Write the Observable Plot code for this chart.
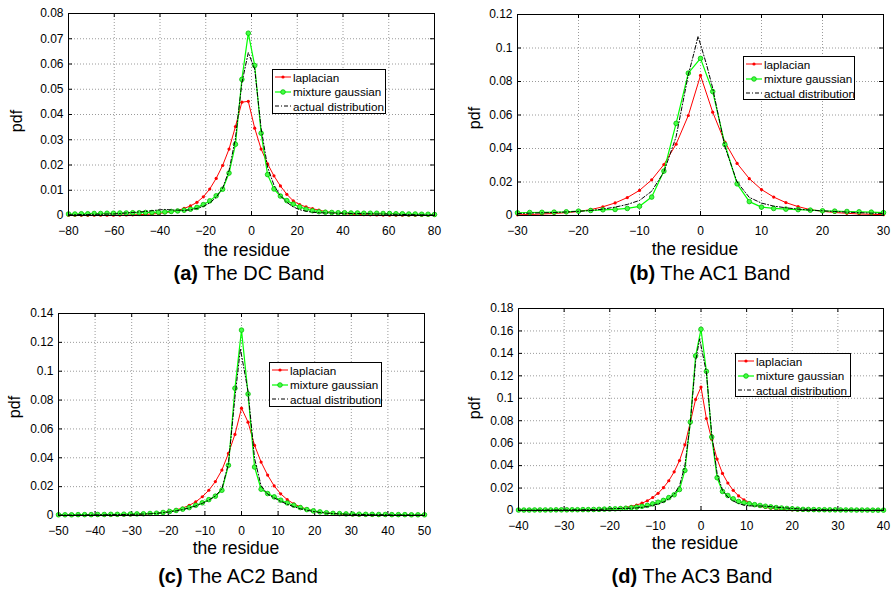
<!DOCTYPE html>
<html><head><meta charset="utf-8">
<script src="https://cdn.jsdelivr.net/npm/d3@7"></script>
<script src="https://cdn.jsdelivr.net/npm/@observablehq/plot@0.6"></script>
<style>
body{margin:0;background:#fff;}
#root{position:relative;width:893px;height:591px;overflow:hidden;font-family:"Liberation Sans",Arial,Helvetica,sans-serif;color:#000;}
.plot{position:absolute;}
.lbl{position:absolute;white-space:nowrap;line-height:1;transform:translateX(-50%);}
.ylbl{position:absolute;white-space:nowrap;line-height:1;font-size:16px;transform:translate(-50%,-50%) rotate(-90deg);}
.legend{position:absolute;background:#fff;border:1px solid #000;box-sizing:border-box;font-size:11.7px;}
.row{position:absolute;left:0;height:14px;display:flex;align-items:center;white-space:nowrap;}
.row svg{margin-left:2px;margin-right:2px;}
</style></head>
<body><div id="root"></div>
<script>
// ---------- (a) The DC Band ----------
const aXTicks = [-80,-60,-40,-20,0,20,40,60,80];
const aYTicks = [0,0.01,0.02,0.03,0.04,0.05,0.06,0.07,0.08];
const aX = [-80,-77.19,-74.39,-71.58,-68.77,-65.96,-63.16,-60.35,-57.54,-54.74,-51.93,-49.12,-46.32,-43.51,-40.70,-37.89,-35.09,-32.28,-29.47,-26.67,-23.86,-21.05,-18.25,-15.44,-12.63,-9.82,-7.02,-4.21,-1.40,1.40,4.21,7.02,9.82,12.63,15.44,18.25,21.05,23.86,26.67,29.47,32.28,35.09,37.89,40.70,43.51,46.32,49.12,51.93,54.74,57.54,60.35,63.16,65.96,68.77,71.58,74.39,77.19,80];
const aLaplacian = [0.00005,0.00006,0.00007,0.00008,0.00009,0.0001,0.00012,0.00014,0.00016,0.0002,0.00025,0.00035,0.00045,0.0006,0.0008,0.0011,0.0015,0.002,0.0028,0.0038,0.0052,0.0074,0.0105,0.0147,0.0198,0.0263,0.0352,0.0449,0.0452,0.0346,0.0263,0.0205,0.0157,0.0117,0.0084,0.0058,0.0043,0.0034,0.0027,0.0021,0.0016,0.0012,0.0009,0.0007,0.0005,0.0004,0.0003,0.00025,0.0002,0.00016,0.00013,0.00011,0.0001,0.00009,0.00008,0.00007,0.00006,0.00005];
const aMixture = [0.0006,0.0006,0.0007,0.0007,0.0008,0.0008,0.0009,0.0009,0.001,0.001,0.0011,0.0011,0.0012,0.0012,0.0013,0.0014,0.0016,0.0018,0.0021,0.0025,0.0032,0.0043,0.0058,0.0078,0.0104,0.0168,0.0282,0.0539,0.0722,0.0594,0.0326,0.0162,0.0105,0.0077,0.0059,0.0045,0.0034,0.0025,0.0019,0.0015,0.0013,0.0012,0.0011,0.0011,0.001,0.001,0.0009,0.0009,0.0009,0.0008,0.0008,0.0007,0.0007,0.0006,0.0006,0.0005,0.0005,0.0004];
const aActual = [0.0003,0.0003,0.0004,0.0004,0.0005,0.0005,0.0006,0.0006,0.0008,0.001,0.0012,0.0014,0.0016,0.0019,0.0022,0.0024,0.0022,0.0021,0.002,0.0022,0.0028,0.0036,0.005,0.0072,0.0108,0.0178,0.0305,0.0525,0.0645,0.058,0.0345,0.0192,0.012,0.0078,0.0052,0.0034,0.0023,0.0017,0.0013,0.0011,0.001,0.001,0.0009,0.0009,0.0008,0.0008,0.0007,0.0007,0.0006,0.0006,0.0005,0.0005,0.0004,0.0004,0.0003,0.0003,0.0002,0.0002];

// ---------- (b) The AC1 Band ----------
const bXTicks = [-30,-20,-10,0,10,20,30];
const bYTicks = [0,0.02,0.04,0.06,0.08,0.1,0.12];
const bX = [-30,-28,-26,-24,-22,-20,-18,-16,-14,-12,-10,-8,-6,-4,-2,0,2,4,6,8,10,12,14,16,18,20,22,24,26,28,30];
const bLaplacian = [0.0004,0.0006,0.0009,0.0012,0.0017,0.0024,0.0035,0.0052,0.0075,0.0107,0.015,0.0213,0.0304,0.0426,0.0597,0.0836,0.0617,0.0438,0.0311,0.022,0.0155,0.011,0.0077,0.0053,0.0035,0.0025,0.0018,0.0013,0.0009,0.0007,0.0005];
const bMixture = [0.0016,0.0018,0.0019,0.002,0.0022,0.0026,0.003,0.0034,0.0036,0.0042,0.0055,0.011,0.0265,0.055,0.085,0.0938,0.074,0.0424,0.0189,0.0083,0.005,0.0042,0.0038,0.0035,0.0032,0.0028,0.0026,0.0024,0.0022,0.002,0.0017];
const bActualX = [-30,-28,-26,-24,-22,-20,-18,-16,-14,-12,-10,-8,-6,-4,-2,-1,-0.4,1,2,4,6,8,10,12,14,16,18,20,22,24,26,28,30];
const bActual = [0.0012,0.0014,0.0016,0.0018,0.0021,0.0025,0.003,0.0038,0.005,0.0066,0.009,0.0145,0.026,0.047,0.084,0.098,0.107,0.09,0.076,0.041,0.02,0.0108,0.0074,0.0056,0.0046,0.0038,0.0032,0.0028,0.0024,0.002,0.0017,0.0014,0.0012];

// ---------- (c) The AC2 Band ----------
const cXTicks = [-50,-40,-30,-20,-10,0,10,20,30,40,50];
const cYTicks = [0,0.02,0.04,0.06,0.08,0.1,0.12,0.14];
const cX = [-50,-48.21,-46.43,-44.64,-42.86,-41.07,-39.29,-37.5,-35.71,-33.93,-32.14,-30.36,-28.57,-26.79,-25,-23.21,-21.43,-19.64,-17.86,-16.07,-14.29,-12.5,-10.71,-8.93,-7.14,-5.36,-3.57,-1.79,0,1.79,3.57,5.36,7.14,8.93,10.71,12.5,14.29,16.07,17.86,19.64,21.43,23.21,25,26.79,28.57,30.36,32.14,33.93,35.71,37.5,39.29,41.07,42.86,44.64,46.43,48.21,50];
const cLaplacian = [0.0001,0.0001,0.0001,0.0001,0.00012,0.00014,0.00017,0.0002,0.00025,0.0003,0.0004,0.0005,0.0007,0.0009,0.0012,0.0016,0.0021,0.0029,0.0039,0.0052,0.007,0.0095,0.013,0.0175,0.0235,0.0315,0.043,0.0562,0.0744,0.0647,0.0486,0.037,0.028,0.0205,0.015,0.011,0.0081,0.006,0.0044,0.0032,0.0024,0.0018,0.0013,0.001,0.0007,0.0005,0.0004,0.0003,0.00025,0.0002,0.00017,0.00014,0.00012,0.0001,0.0001,0.0001,0.0001];
const cMixture = [0.0005,0.0005,0.0005,0.0006,0.0006,0.0006,0.0007,0.0007,0.0008,0.0008,0.0009,0.001,0.0011,0.0012,0.0014,0.0016,0.0021,0.0028,0.0035,0.0044,0.0055,0.0071,0.0088,0.011,0.0134,0.0175,0.0348,0.0882,0.1285,0.0842,0.0336,0.0182,0.0152,0.0129,0.0106,0.0087,0.0071,0.0055,0.0041,0.0032,0.0025,0.0019,0.0015,0.0013,0.0011,0.001,0.0009,0.0008,0.0008,0.0007,0.0007,0.0006,0.0006,0.0006,0.0005,0.0005,0.0005];
const cActualX = [-50,-48.21,-46.43,-44.64,-42.86,-41.07,-39.29,-37.5,-35.71,-33.93,-32.14,-30.36,-28.57,-26.79,-25,-23.21,-21.43,-19.64,-17.86,-16.07,-14.29,-12.5,-10.71,-8.93,-7.14,-5.36,-3.57,-1.79,-0.3,1.79,3.57,5.36,7.14,8.93,10.71,12.5,14.29,16.07,17.86,19.64,21.43,23.21,25,26.79,28.57,30.36,32.14,33.93,35.71,37.5,39.29,41.07,42.86,44.64,46.43,48.21,50];
const cActual = [0.0003,0.0003,0.0003,0.0004,0.0004,0.0004,0.0005,0.0005,0.0006,0.0006,0.0007,0.0008,0.0009,0.001,0.0012,0.0015,0.0019,0.0025,0.0032,0.0041,0.0052,0.0066,0.0084,0.0106,0.0135,0.0185,0.036,0.082,0.1155,0.086,0.0395,0.0205,0.0148,0.0122,0.0098,0.0078,0.0061,0.0047,0.0036,0.0028,0.0021,0.0016,0.0013,0.0011,0.0009,0.0008,0.0007,0.0006,0.0006,0.0005,0.0005,0.0004,0.0004,0.0004,0.0003,0.0003,0.0003];

// ---------- (d) The AC3 Band ----------
const dXTicks = [-40,-30,-20,-10,0,10,20,30,40];
const dYTicks = [0,0.02,0.04,0.06,0.08,0.1,0.12,0.14,0.16,0.18];
const dX = [-40,-38.82,-37.65,-36.47,-35.29,-34.12,-32.94,-31.76,-30.59,-29.41,-28.24,-27.06,-25.88,-24.71,-23.53,-22.35,-21.18,-20,-18.82,-17.65,-16.47,-15.29,-14.12,-12.94,-11.76,-10.59,-9.41,-8.24,-7.06,-5.88,-4.71,-3.53,-2.35,-1.18,0,1.18,2.35,3.53,4.71,5.88,7.06,8.24,9.41,10.59,11.76,12.94,14.12,15.29,16.47,17.65,18.82,20,21.18,22.35,23.53,24.71,25.88,27.06,28.24,29.41,30.59,31.76,32.94,34.12,35.29,36.47,37.65,38.82,40];
const dLaplacian = [0.00003,0.00004,0.00005,0.00006,0.00007,0.00008,0.0001,0.00012,0.00014,0.00017,0.0002,0.00025,0.0003,0.0004,0.0005,0.0007,0.0009,0.0012,0.0016,0.0021,0.0028,0.0037,0.0049,0.0065,0.0087,0.0116,0.0153,0.0203,0.0265,0.0345,0.0445,0.0585,0.0785,0.099,0.110,0.082,0.0635,0.0458,0.033,0.0245,0.018,0.013,0.0095,0.0069,0.005,0.0037,0.0027,0.002,0.0015,0.0011,0.0008,0.0006,0.0004,0.0003,0.00025,0.0002,0.00015,0.00012,0.0001,0.00008,0.00007,0.00006,0.00005,0.00004,0.00004,0.00003,0.00003,0.00002,0.00002];
const dMixture = [0.0004,0.0004,0.0004,0.0005,0.0005,0.0005,0.0005,0.0006,0.0006,0.0006,0.0007,0.0007,0.0008,0.0008,0.0009,0.001,0.0012,0.0013,0.0015,0.0017,0.002,0.0025,0.003,0.0037,0.0046,0.0059,0.0074,0.009,0.0115,0.014,0.0187,0.0357,0.0788,0.1378,0.1615,0.124,0.0655,0.0292,0.017,0.0134,0.0104,0.008,0.0068,0.006,0.0052,0.0045,0.0038,0.0032,0.0026,0.0022,0.0018,0.0015,0.0012,0.001,0.0009,0.0008,0.0007,0.0007,0.0006,0.0006,0.0005,0.0005,0.0005,0.0004,0.0004,0.0004,0.0003,0.0003,0.0003];
const dActualX = [-40,-38.82,-37.65,-36.47,-35.29,-34.12,-32.94,-31.76,-30.59,-29.41,-28.24,-27.06,-25.88,-24.71,-23.53,-22.35,-21.18,-20,-18.82,-17.65,-16.47,-15.29,-14.12,-12.94,-11.76,-10.59,-9.41,-8.24,-7.06,-5.88,-4.71,-3.53,-2.35,-1.18,-0.3,1.18,2.35,3.53,4.71,5.88,7.06,8.24,9.41,10.59,11.76,12.94,14.12,15.29,16.47,17.65,18.82,20,21.18,22.35,23.53,24.71,25.88,27.06,28.24,29.41,30.59,31.76,32.94,34.12,35.29,36.47,37.65,38.82,40];
const dActual = [0.0003,0.0003,0.0003,0.0003,0.0004,0.0004,0.0004,0.0005,0.0005,0.0005,0.0006,0.0006,0.0007,0.0008,0.0009,0.001,0.0012,0.0015,0.0017,0.0018,0.0019,0.002,0.0023,0.0028,0.0035,0.0045,0.0058,0.0076,0.0102,0.0145,0.022,0.04,0.078,0.133,0.153,0.123,0.068,0.033,0.018,0.012,0.0085,0.0062,0.0048,0.0042,0.004,0.004,0.0038,0.0034,0.003,0.0026,0.0022,0.0018,0.0015,0.0012,0.001,0.0009,0.0008,0.0007,0.0006,0.0006,0.0005,0.0005,0.0004,0.0004,0.0004,0.0003,0.0003,0.0003,0.0003];

const seriesNames = ["laplacian", "mixture gaussian", "actual distribution"];
const xLabel = "the residue";
const yLabel = "pdf";

const RED = "#ff0000", GREEN = "#00ff00", BLACK = "#000000";
const fmtX = d => d < 0 ? "\u2212" + (-d) : String(d);
const fmtY = d => String(+d.toFixed(2));
const root = document.getElementById("root");

const panels = [
  {x0:0, y0:0, W:450, H:245, fl:68, fr:434, ft:13, fb:215, xTicks:aXTicks, yTicks:aYTicks,
   lapX:aX, lap:aLaplacian, mixX:aX, mix:aMixture, actX:aX, act:aActual,
   tag:"(a)", title:" The DC Band", titleX:249, titleBase:280, xlX:247, xlBase:256.5, ylX:17, ylY:121,
   legend:{left:272, top:69, w:114, h:45}},
  {x0:450, y0:0, W:443, H:245, fl:517, fr:883, ft:14, fb:215, xTicks:bXTicks, yTicks:bYTicks,
   lapX:bX, lap:bLaplacian, mixX:bX, mix:bMixture, actX:bActualX, act:bActual,
   tag:"(b)", title:" The AC1 Band", titleX:710, titleBase:280, xlX:695, xlBase:256, ylX:475, ylY:118,
   legend:{left:743, top:56, w:112, h:44}},
  {x0:0, y0:295, W:450, H:245, fl:58, fr:424, ft:313, fb:515, xTicks:cXTicks, yTicks:cYTicks,
   lapX:cX, lap:cLaplacian, mixX:cX, mix:cMixture, actX:cActualX, act:cActual,
   tag:"(c)", title:" The AC2 Band", titleX:238, titleBase:583, xlX:236, xlBase:555, ylX:15, ylY:407,
   legend:{left:269, top:362, w:113, h:45}},
  {x0:450, y0:295, W:443, H:245, fl:518, fr:883, ft:308, fb:510, xTicks:dXTicks, yTicks:dYTicks,
   lapX:dX, lap:dLaplacian, mixX:dX, mix:dMixture, actX:dActualX, act:dActual,
   tag:"(d)", title:" The AC3 Band", titleX:692, titleBase:583, xlX:695, xlBase:550, ylX:475, ylY:408,
   legend:{left:735, top:353, w:116, h:44}}
];

function pts(xs, ys) { return xs.map((x, i) => ({x, y: ys[i]})); }

for (const p of panels) {
  const xd = [p.xTicks[0], p.xTicks[p.xTicks.length - 1]];
  const yd = [p.yTicks[0], p.yTicks[p.yTicks.length - 1]];
  const tx = 4 / (p.fr - p.fl) * (xd[1] - xd[0]);
  const ty = 4 / (p.fb - p.ft) * (yd[1] - yd[0]);
  const lap = pts(p.lapX, p.lap), mix = pts(p.mixX, p.mix), act = pts(p.actX, p.act);
  const grid = {stroke: "#9a9a9a", strokeOpacity: 1, strokeDasharray: "1,2", strokeWidth: 1};
  const chart = Plot.plot({
    width: p.W, height: p.H,
    marginLeft: p.fl - p.x0, marginRight: p.x0 + p.W - p.fr,
    marginTop: p.ft - p.y0, marginBottom: p.y0 + p.H - p.fb,
    x: {domain: xd}, y: {domain: yd},
    style: {fontFamily: "'Liberation Sans', Arial, sans-serif", fontSize: "12px", color: "#000", background: "transparent", overflow: "visible"},
    marks: [
      Plot.gridX(p.xTicks, grid),
      Plot.gridY(p.yTicks, grid),
      Plot.axisX({ticks: p.xTicks, tickSize: 0, tickPadding: 11, tickFormat: fmtX, label: null, fontSize: 12}),
      Plot.axisY({ticks: p.yTicks, tickSize: 0, tickPadding: 5, tickFormat: fmtY, label: null, fontSize: 12}),
      Plot.ruleX(p.xTicks, {x: d => d, y1: yd[0], y2: yd[0] + ty, stroke: BLACK}),
      Plot.ruleX(p.xTicks, {x: d => d, y1: yd[1], y2: yd[1] - ty, stroke: BLACK}),
      Plot.ruleY(p.yTicks, {y: d => d, x1: xd[0], x2: xd[0] + tx, stroke: BLACK}),
      Plot.ruleY(p.yTicks, {y: d => d, x1: xd[1], x2: xd[1] - tx, stroke: BLACK}),
      Plot.line(lap, {x: "x", y: "y", stroke: RED, strokeWidth: 1}),
      Plot.dot(lap, {x: "x", y: "y", r: 1.6, fill: RED}),
      Plot.line(mix, {x: "x", y: "y", stroke: GREEN, strokeWidth: 1.2}),
      Plot.dot(mix, {x: "x", y: "y", r: 2.3, fill: "#44ff44", stroke: "#00c000", strokeWidth: 0.8}),
      Plot.line(act, {x: "x", y: "y", stroke: BLACK, strokeWidth: 1, strokeDasharray: "4,2,1,2"}),
      Plot.frame({stroke: BLACK, strokeWidth: 1})
    ]
  });
  chart.classList.add("plot");
  chart.style.left = p.x0 + "px";
  chart.style.top = p.y0 + "px";
  root.appendChild(chart);

  // x label
  const xl = document.createElement("div");
  xl.className = "lbl"; xl.style.fontSize = "17.5px";
  xl.textContent = xLabel;
  xl.style.left = p.xlX + "px"; xl.style.top = (p.xlBase - 0.8465 * 17.5) + "px";
  root.appendChild(xl);
  // y label
  const yl = document.createElement("div");
  yl.className = "ylbl"; yl.textContent = yLabel;
  yl.style.left = p.ylX + "px"; yl.style.top = p.ylY + "px";
  root.appendChild(yl);
  // title
  const t = document.createElement("div");
  t.className = "lbl"; t.style.fontSize = "20px";
  const b = document.createElement("b"); b.textContent = p.tag;
  t.appendChild(b); t.appendChild(document.createTextNode(p.title));
  t.style.left = p.titleX + "px"; t.style.top = (p.titleBase - 0.8465 * 20) + "px";
  root.appendChild(t);
  // legend
  const lg = document.createElement("div");
  lg.className = "legend";
  Object.assign(lg.style, {left: p.legend.left + "px", top: p.legend.top + "px", width: p.legend.w + "px", height: p.legend.h + "px"});
  const rows = [8, 22.5, 37];
  seriesNames.forEach((name, i) => {
    const r = document.createElement("div");
    r.className = "row";
    r.style.top = (rows[i] - 7 - 1) + "px";
    const ns = "http://www.w3.org/2000/svg";
    const s = document.createElementNS(ns, "svg");
    s.setAttribute("width", 16); s.setAttribute("height", 10);
    const ln = document.createElementNS(ns, "line");
    ln.setAttribute("x1", 0); ln.setAttribute("x2", 16); ln.setAttribute("y1", 5); ln.setAttribute("y2", 5);
    ln.setAttribute("stroke", [RED, GREEN, BLACK][i]);
    ln.setAttribute("stroke-width", i === 1 ? 1.2 : 1);
    if (i === 2) ln.setAttribute("stroke-dasharray", "4,2,1,2");
    s.appendChild(ln);
    if (i < 2) {
      const c = document.createElementNS(ns, "circle");
      c.setAttribute("cx", 8); c.setAttribute("cy", 5); c.setAttribute("r", i === 0 ? 1.6 : 2.3);
      c.setAttribute("fill", i === 0 ? RED : "#44ff44");
      if (i === 1) { c.setAttribute("stroke", "#00c000"); c.setAttribute("stroke-width", 0.8); }
      s.appendChild(c);
    }
    r.appendChild(s);
    const sp = document.createElement("span");
    sp.textContent = name;
    r.appendChild(sp);
    lg.appendChild(r);
  });
  root.appendChild(lg);
}
</script></body></html>
